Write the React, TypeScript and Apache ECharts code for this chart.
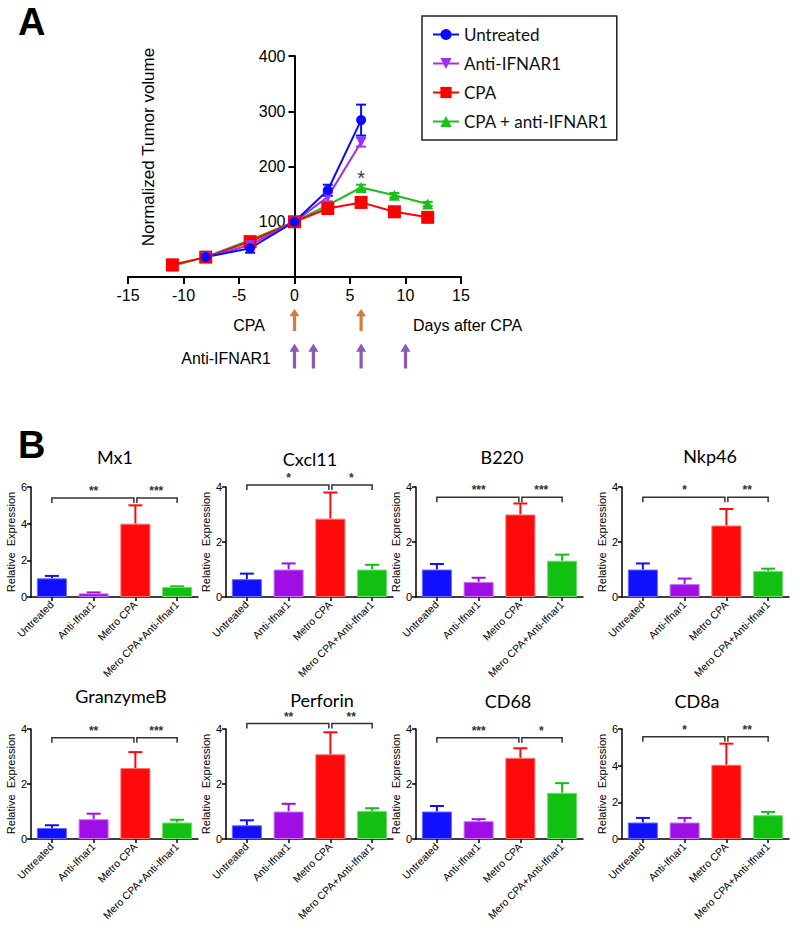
import React, { useEffect, useRef } from "react";
import * as echarts from "echarts";

// ---------- Panel A data ----------
const days = [-11, -8, -4, 0, 3, 6, 9, 12];
const untreated = [null, 36, 52, 100, 157, 284, null, null];
const untreatedErr = [0, 3, 8, 0, 10, 28, 0, 0];
const antiIfnar1 = [null, 36, 58, 100, 145, 244, null, null];
const antiIfnar1Err = [0, 2, 5, 0, 8, 8, 0, 0];
const cpa = [22, 36, 64, 100, 124, 135, 118, 108];
const cpaErr = [3, 3, 4, 0, 8, 7, 9, 8];
const cpaAnti = [20, 36, 67, 100, 130, 162, 148, 132];
const cpaAntiErr = [2, 2, 3, 0, 5, 5, 4, 4];
const lineNames = ["Untreated", "Anti-IFNAR1", "CPA", "CPA + anti-IFNAR1"];
const xTicks = [-15, 15, 5];
const yTicks = [0, 400, 100];
const starPoint = [6, 180];
const cpaDoseDays = [0, 6];
const antiDoseDays = [0, 1.7, 6, 10];

// ---------- Panel B data ----------
const groups = ["Untreated", "Anti-Ifnar1", "Metro CPA", "Mero CPA+Anti-Ifnar1"];
const genes = ["Mx1", "Cxcl11", "B220", "Nkp46", "GranzymeB", "Perforin", "CD68", "CD8a"];
const mx1 = [1.02, 0.2, 4.0, 0.55];
const mx1Err = [0.13, 0.05, 1.0, 0.03];
const cxcl11 = [0.65, 1.0, 2.85, 1.0];
const cxcl11Err = [0.2, 0.22, 0.95, 0.17];
const b220 = [1.0, 0.55, 3.0, 1.32];
const b220Err = [0.2, 0.15, 0.4, 0.22];
const nkp46 = [1.0, 0.47, 2.6, 0.95];
const nkp46Err = [0.22, 0.2, 0.6, 0.08];
const granzymeB = [0.4, 0.72, 2.58, 0.6];
const granzymeBErr = [0.1, 0.2, 0.58, 0.1];
const perforin = [0.5, 1.0, 3.08, 1.02];
const perforinErr = [0.18, 0.28, 0.8, 0.1];
const cd68 = [1.0, 0.65, 2.95, 1.68];
const cd68Err = [0.2, 0.07, 0.35, 0.35];
const cd8a = [0.9, 0.9, 4.05, 1.3];
const cd8aErr = [0.25, 0.25, 1.15, 0.18];
const geneMeans = [mx1, cxcl11, b220, nkp46, granzymeB, perforin, cd68, cd8a];
const geneErrs = [mx1Err, cxcl11Err, b220Err, nkp46Err, granzymeBErr, perforinErr, cd68Err, cd8aErr];
const geneMax = [6, 4, 4, 4, 4, 4, 4, 6];
const sigLeft = ["**", "*", "***", "*", "**", "**", "***", "*"];
const sigRight = ["***", "*", "***", "**", "***", "**", "*", "**"];
const sigY = [5.4, 4.07, 3.63, 3.63, 3.68, 4.2, 3.68, 5.58];

// ---------- styling / layout ----------
const lineColors = ["#0a0aff", "#a030f0", "#ff0000", "#18c018"];
const barColors = ["#1010ff", "#a00ee6", "#ff0a0a", "#11c011"];
const barBorders = ["#6a6aff", "#c878f0", "#ff7070", "#70dd70"];
const panelLeft = [31, 226, 416, 622];
const rowTop = [487, 729];
const titlePos = [
  [115, 457], [310, 459], [502, 457], [710, 456],
  [121, 696], [322, 700], [508, 701], [697, 701],
];
const ARIAL = "'Liberation Sans', Arial, sans-serif";
const CAL = "Lato, 'Open Sans', sans-serif";

function errRenderer(color: string, cap: number, both: boolean) {
  return (params: any, api: any) => {
    const x = api.value(0);
    const lo = api.value(1);
    const hi = api.value(2);
    const a = api.coord([x, lo]);
    const b = api.coord([x, hi]);
    const st = { stroke: color, lineWidth: 2 };
    const children: any[] = [
      { type: "line", shape: { x1: a[0], y1: a[1], x2: b[0], y2: b[1] }, style: st },
      { type: "line", shape: { x1: b[0] - cap, y1: b[1], x2: b[0] + cap, y2: b[1] }, style: st },
    ];
    if (both) {
      children.push({ type: "line", shape: { x1: a[0] - cap, y1: a[1], x2: a[0] + cap, y2: a[1] }, style: st });
    }
    return { type: "group", children };
  };
}

export default function App() {
  const ref = useRef<HTMLDivElement>(null);
  useEffect(() => {
    if (!ref.current) return;
    const chart = echarts.init(ref.current, null, { renderer: "svg" });
    const grids: any[] = [];
    const xAxes: any[] = [];
    const yAxes: any[] = [];
    const series: any[] = [];
    const graphics: any[] = [];

    // Panel A grid
    const gridLeftA = 128;
    const gridWidthA = 333;
    const zeroOffset = -(gridWidthA * (0 - xTicks[0])) / (xTicks[1] - xTicks[0]);
    grids.push({ left: gridLeftA, top: 56, width: gridWidthA, height: 221, containLabel: false, outerBoundsMode: "none" });
    xAxes.push({
      gridIndex: 0, type: "value", min: xTicks[0], max: xTicks[1], interval: xTicks[2],
      axisLine: { show: true, onZero: false, lineStyle: { color: "#000", width: 2 } },
      axisTick: { show: true, length: 7, lineStyle: { color: "#000", width: 2 } },
      axisLabel: { fontSize: 16, color: "#000", margin: 10, fontFamily: ARIAL },
      splitLine: { show: false },
    });
    yAxes.push({
      gridIndex: 0, type: "value", min: yTicks[0], max: yTicks[1], interval: yTicks[2],
      offset: zeroOffset,
      axisLine: { show: true, onZero: false, lineStyle: { color: "#000", width: 2 } },
      axisTick: { show: true, length: 6, lineStyle: { color: "#000", width: 2 } },
      axisLabel: { fontSize: 16, color: "#000", margin: 9, fontFamily: ARIAL, formatter: (v: number) => (v === 0 ? "" : String(v)) },
      splitLine: { show: false },
    });
    // Arrow grid
    grids.push({ left: gridLeftA, top: 300, width: gridWidthA, height: 80, containLabel: false, outerBoundsMode: "none" });
    xAxes.push({ gridIndex: 1, type: "value", min: xTicks[0], max: xTicks[1], show: false });
    yAxes.push({ gridIndex: 1, type: "value", min: 0, max: 2, show: false });

    const lineSets = [
      { vals: untreated, errs: untreatedErr, idx: 0, symbol: "circle", size: 10, rot: 0 },
      { vals: antiIfnar1, errs: antiIfnar1Err, idx: 1, symbol: "triangle", size: 10, rot: 180 },
      { vals: cpa, errs: cpaErr, idx: 2, symbol: "rect", size: 13, rot: 0 },
      { vals: cpaAnti, errs: cpaAntiErr, idx: 3, symbol: "triangle", size: 11, rot: 0 },
    ];
    const drawOrder = [3, 2, 1, 0];
    drawOrder.forEach((o) => {
      const s = lineSets[o];
      const color = lineColors[s.idx];
      const pts: any[] = [];
      const errs: any[] = [];
      days.forEach((d, i) => {
        const v = s.vals[i];
        if (v === null || v === undefined) return;
        pts.push([d, v]);
        if (s.errs[i] > 0) errs.push([d, v - s.errs[i], v + s.errs[i]]);
      });
      series.push({
        type: "custom", xAxisIndex: 0, yAxisIndex: 0, data: errs,
        encode: { x: 0, y: [1, 2] }, renderItem: errRenderer(color, 5, true), z: 2, silent: true,
      });
      series.push({
        name: lineNames[s.idx], type: "line", xAxisIndex: 0, yAxisIndex: 0, data: pts,
        symbol: s.symbol, symbolSize: s.size, symbolRotate: s.rot,
        lineStyle: { color, width: 2 }, itemStyle: { color }, z: 3,
      });
    });
    series.push({
      type: "scatter", xAxisIndex: 0, yAxisIndex: 0, data: [starPoint], symbolSize: 1,
      itemStyle: { color: "transparent" },
      label: { show: true, position: "inside", formatter: "*", fontSize: 20, color: "#000", fontFamily: ARIAL },
    });
    const arrowPath = "path://M5,0 L10,8 L6.6,8 L6.6,24 L3.4,24 L3.4,8 L0,8 Z";
    series.push({
      type: "scatter", xAxisIndex: 1, yAxisIndex: 1, data: cpaDoseDays.map((d) => [d, 1.5]),
      symbol: arrowPath, symbolSize: [10, 22], itemStyle: { color: "#cc5a0e" },
    });
    series.push({
      type: "scatter", xAxisIndex: 1, yAxisIndex: 1, data: antiDoseDays.map((d) => [d, 0.6]),
      symbol: arrowPath, symbolSize: [10, 25], itemStyle: { color: "#7030a0" },
    });

    // Panel B
    genes.forEach((g, k) => {
      const gi = grids.length;
      const row = Math.floor(k / 4);
      grids.push({ left: panelLeft[k % 4], top: rowTop[row], width: 167, height: 110, containLabel: false, outerBoundsMode: "none" });
      xAxes.push({
        gridIndex: gi, type: "category", data: groups,
        axisLine: { show: true, lineStyle: { color: "#000", width: 1.5 } },
        axisTick: { show: true, alignWithLabel: true, length: 4, lineStyle: { color: "#000", width: 1.5 } },
        axisLabel: { interval: 0, rotate: 45, fontSize: 10.5, color: "#000", margin: 6, fontFamily: ARIAL },
      });
      yAxes.push({
        gridIndex: gi, type: "value", min: 0, max: geneMax[k], interval: 2,
        name: "Relative  Expression", nameLocation: "middle", nameGap: 14,
        nameTextStyle: { fontSize: 11, color: "#000", fontFamily: ARIAL },
        axisLine: { show: true, lineStyle: { color: "#000", width: 1.5 } },
        axisTick: { show: true, length: 4, lineStyle: { color: "#000", width: 1.5 } },
        axisLabel: { fontSize: 11, color: "#000", margin: 4, fontFamily: ARIAL },
        splitLine: { show: false },
      });
      const means = geneMeans[k];
      const errs = geneErrs[k];
      series.push({
        type: "bar", xAxisIndex: gi, yAxisIndex: gi, barWidth: "72%",
        data: means.map((v, i) => ({ value: v, itemStyle: { color: barColors[i], borderColor: barBorders[i], borderWidth: 1 } })),
      });
      means.forEach((v, i) => {
        series.push({
          type: "custom", xAxisIndex: gi, yAxisIndex: gi, data: [[i, v, v + errs[i]]],
          encode: { x: 0, y: [1, 2] }, renderItem: errRenderer(barColors[i], 7, false), z: 1, silent: true,
        });
      });
      const L = sigLeft[k];
      const R = sigRight[k];
      series.push({
        type: "custom", xAxisIndex: gi, yAxisIndex: gi, data: [[0, sigY[k]]],
        encode: { x: 0, y: 1 }, silent: true,
        renderItem: (params: any, api: any) => {
          const y = api.value(1);
          const p0 = api.coord([0, y]);
          const p2 = api.coord([2, y]);
          const p3 = api.coord([3, y]);
          const d = 5;
          const yy = p0[1];
          const st = { stroke: "#333", lineWidth: 1.5, fill: null };
          return {
            type: "group",
            children: [
              { type: "polyline", shape: { points: [[p0[0], yy + d], [p0[0], yy], [p2[0] - 1.5, yy], [p2[0] - 1.5, yy + d]] }, style: st },
              { type: "polyline", shape: { points: [[p2[0] + 1.5, yy + d], [p2[0] + 1.5, yy], [p3[0], yy], [p3[0], yy + d]] }, style: st },
              { type: "text", x: (p0[0] + p2[0]) / 2, y: yy - 1, style: { text: L, textAlign: "center", textVerticalAlign: "bottom", fontSize: 12, fontWeight: "bold", fill: "#333", fontFamily: ARIAL } },
              { type: "text", x: (p2[0] + p3[0]) / 2, y: yy - 1, style: { text: R, textAlign: "center", textVerticalAlign: "bottom", fontSize: 12, fontWeight: "bold", fill: "#333", fontFamily: ARIAL } },
            ],
          };
        },
      });
      graphics.push({
        type: "text", x: titlePos[k][0], y: titlePos[k][1],
        style: { text: g, textAlign: "center", textVerticalAlign: "middle", fontSize: 18, fill: "#000", fontFamily: CAL },
      });
    });

    graphics.push(
      { type: "text", x: 18, y: 22, style: { text: "A", textVerticalAlign: "middle", fontSize: 38, fontWeight: "bold", fill: "#000", fontFamily: ARIAL } },
      { type: "text", x: 18, y: 445, style: { text: "B", textVerticalAlign: "middle", fontSize: 38, fontWeight: "bold", fill: "#000", fontFamily: ARIAL } },
      { type: "text", x: 148, y: 147, rotation: Math.PI / 2, style: { text: "Normalized Tumor volume", textAlign: "center", textVerticalAlign: "middle", fontSize: 17, fill: "#000", fontFamily: ARIAL } },
      { type: "text", x: 249, y: 325, style: { text: "CPA", textAlign: "center", textVerticalAlign: "middle", fontSize: 16, fill: "#000", fontFamily: ARIAL } },
      { type: "text", x: 413, y: 325, style: { text: "Days after CPA", textAlign: "left", textVerticalAlign: "middle", fontSize: 16, fill: "#000", fontFamily: ARIAL } },
      { type: "text", x: 271, y: 358, style: { text: "Anti-IFNAR1", textAlign: "right", textVerticalAlign: "middle", fontSize: 16, fill: "#000", fontFamily: ARIAL } },
    );

    chart.setOption({
      animation: false,
      backgroundColor: "#fff",
      grid: grids,
      xAxis: xAxes,
      yAxis: yAxes,
      series,
      graphic: graphics,
      legend: {
        data: lineNames, orient: "vertical", left: 422, top: 16,
        borderColor: "#222", borderWidth: 1.5, padding: [10, 8, 10, 10], itemGap: 12,
        itemWidth: 26, itemHeight: 14,
        textStyle: { fontSize: 17, color: "#111", fontFamily: CAL },
      },
    });
    return () => chart.dispose();
  }, []);
  return <div ref={ref} style={{ position: "fixed", left: 0, top: 0, width: 800, height: 933 }} />;
}
